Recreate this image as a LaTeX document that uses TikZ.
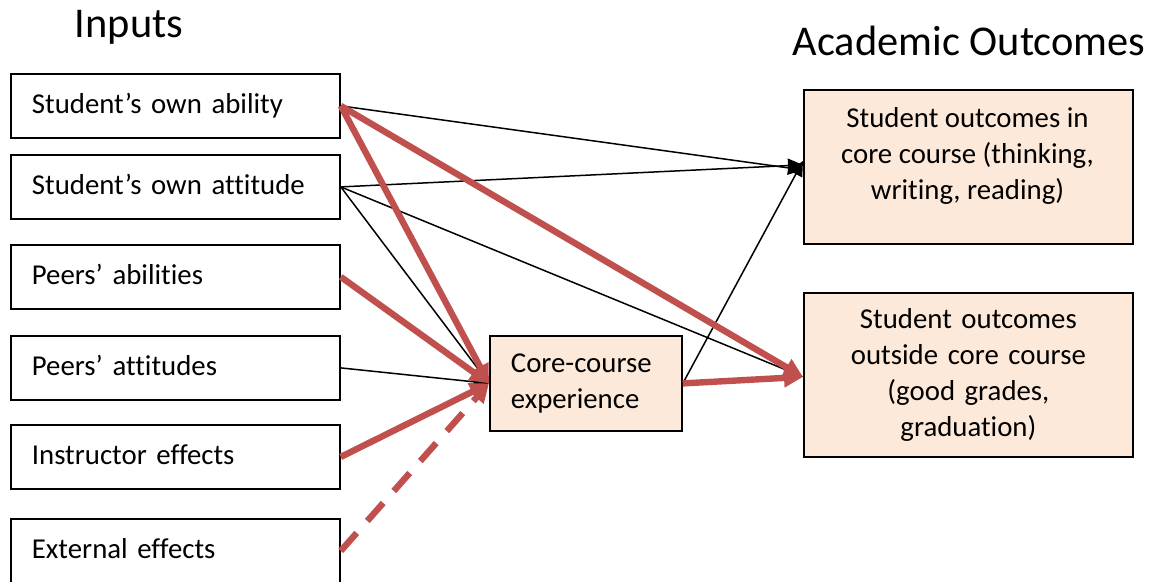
\documentclass[tikz,border=0pt]{standalone}
\usepackage{fontspec}
\setmainfont{Carlito}[Ligatures=NoCommon]
\usetikzlibrary{arrows.meta}
\definecolor{linkred}{HTML}{C0504D}
\definecolor{peach}{HTML}{FDE9D9}
\newcommand{\boxfont}{\fontsize{28.8}{35.8}\selectfont}
\tikzset{
  inbox/.style={draw=black, line width=1.8pt, rectangle, anchor=north west,
    minimum width=329pt, minimum height=64pt, text width=287pt, align=left,
    inner xsep=21pt, inner ysep=0pt, text height=16pt, text depth=0pt,
    font=\boxfont},
  outbox/.style={draw=black, line width=1.8pt, fill=peach, rectangle, anchor=north west,
    minimum width=329pt, inner sep=0pt},
  bodytext/.style={align=center, inner sep=0pt, font=\boxfont},
  heading/.style={anchor=base, inner sep=0pt, font=\fontsize{42.4}{50}\selectfont},
  thinlink/.style={draw=black, line width=1.5pt, -{Triangle[length=15pt,width=14pt]}},
  redlink/.style={draw=linkred, line width=6.4pt, -{Triangle[length=19pt,width=18pt]}},
}
\begin{document}
\begin{tikzpicture}[x=1pt, y=-1pt]
\useasboundingbox (0,0) rectangle (1151,581);

% column headings
\node[heading] (hin) at (129,37) {Inputs};
\node[heading] (hout) at (969,55) {Academic Outcomes};

% input boxes
\node[inbox] (ability)  at (10,73)  {Student’s own ability};
\node[inbox] (attitude) at (10,154) {Student’s own attitude};
\node[inbox] (pability) at (10,244) {Peers’ abilities};
\node[inbox] (pattitude) at (10,335) {Peers’ attitudes};
\node[inbox] (instr)    at (10,424) {Instructor effects};
\node[inbox] (ext)      at (10,518) {External effects};

% mediating box
\node[draw=black, line width=1.8pt, fill=peach, rectangle, anchor=north west,
  minimum width=192pt, minimum height=95pt, text width=150pt, align=left,
  inner xsep=21pt, inner ysep=0pt, font=\boxfont]
  (core) at (489,335) {Core-course\\experience};

% outcome boxes
\node[outbox, minimum height=154pt] (out1) at (803,89) {};
\node[bodytext] (out1text) at (967.5,156) {Student outcomes in\\core course (thinking,\\writing, reading)};
\node[outbox, minimum height=164pt, text width=329pt, align=center,
  font=\boxfont] (out2) at (803,292)
  {Student outcomes\\outside core course\\(good grades,\\graduation)};

% thin links
\draw[thinlink] (ability.east) -- ([yshift=-3pt]out1.west);
\draw[thinlink] (attitude.east) -- ([yshift=2pt]out1.west);
\draw[thinlink] (attitude.east) -- (core.west);
\draw[thinlink] (attitude.east) -- ([yshift=-2pt]out2.west);
\draw[thinlink] (pattitude.east) -- (core.west);
\draw[thinlink] (core.east) -- ([yshift=6pt]out1.west);

% strong links
\draw[redlink] (ability.east) -- (core.west);
\draw[redlink] (ability.east) -- ([yshift=-2pt]out2.west);
\draw[redlink] (pability.east) -- (core.west);
\draw[redlink] (instr.east) -- (core.west);
\draw[redlink, dash pattern=on 24pt off 16pt] (ext.east) -- (core.west);
\draw[redlink] (core.east) -- ([yshift=-2pt]out2.west);
\end{tikzpicture}
\end{document}
